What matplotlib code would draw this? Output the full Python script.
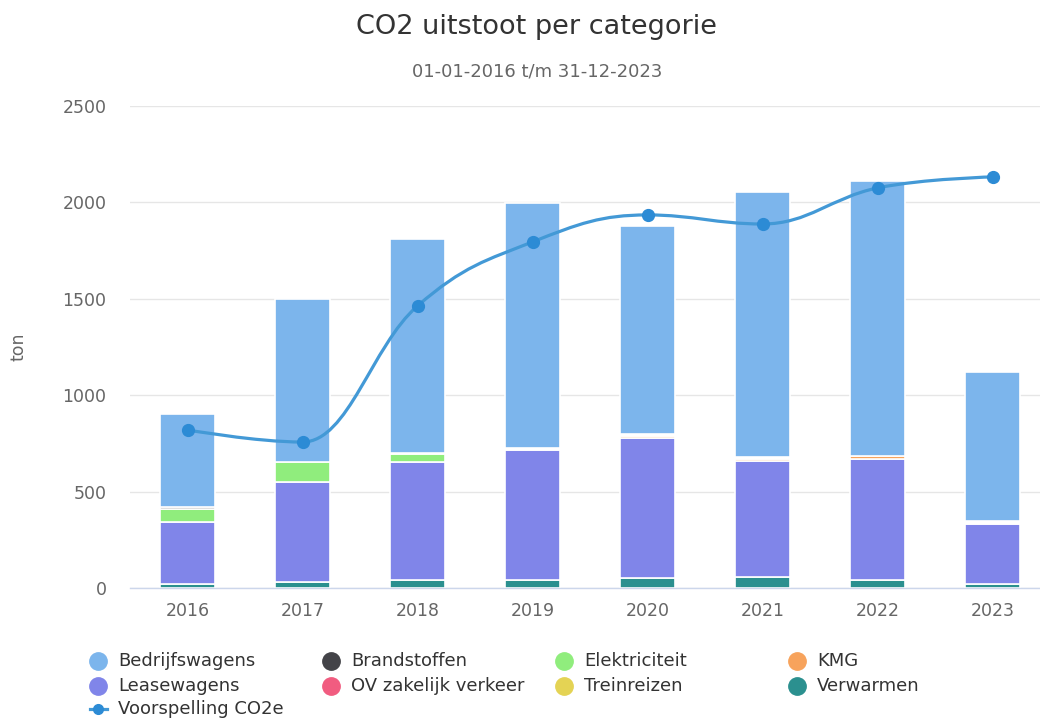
import numpy as np
import matplotlib
matplotlib.use("Agg")
import matplotlib.pyplot as plt
from matplotlib.path import Path
from matplotlib.patches import PathPatch
from matplotlib.lines import Line2D

# ─── Data ─────────────────────────────────────────────────────────────────────
years = ["2016", "2017", "2018", "2019", "2020", "2021", "2022", "2023"]

bedrijfswagens = [482, 845, 1111, 1269, 1080, 1372, 1425, 770]
brandstoffen   = [6, 0, 6, 4, 6, 8, 0, 4]
elektriciteit  = [71, 103, 40, 4, 6, 7, 0, 5]
kmg            = [0, 0, 0, 4, 6, 7, 18, 5]
leasewagens    = [319, 518, 613, 675, 730, 603, 628, 313]
ov_zakelijk    = [0, 0, 0, 0, 0, 0, 0, 0]
treinreizen    = [0, 0, 0, 0, 0, 0, 0, 0]
verwarmen      = [22, 33, 41, 41, 50, 57, 41, 21]

voorspelling   = [820, 757, 1463, 1795, 1935, 1888, 2075, 2132]

# ─── Style ────────────────────────────────────────────────────────────────────
C_BEDR  = "#7cb5ec"
C_BRAND = "#434348"
C_ELEK  = "#90ed7d"
C_KMG   = "#f7a35c"
C_LEASE = "#8085e9"
C_OV    = "#f15c80"
C_TREIN = "#e4d354"
C_VERW  = "#2b908f"
C_LINE  = "#4399d6"
C_DOT   = "#2c8bd5"
TXT     = "#333333"
SUB     = "#666666"

plt.rcParams["font.family"] = ["DejaVu Sans"]


def spline_path(xs, ys):
    """Highcharts-style spline through the points (cubic bezier)."""
    n = len(xs)
    lc = [(xs[i], ys[i]) for i in range(n)]
    rc = [(xs[i], ys[i]) for i in range(n)]
    sm, den = 1.5, 2.5
    for i in range(1, n - 1):
        px, py = xs[i - 1], ys[i - 1]
        nx, ny = xs[i + 1], ys[i + 1]
        x, y = xs[i], ys[i]
        lcx, lcy = (sm * x + px) / den, (sm * y + py) / den
        rcx, rcy = (sm * x + nx) / den, (sm * y + ny) / den
        corr = ((rcy - lcy) * (rcx - x)) / (rcx - lcx) + y - rcy
        lcy += corr
        rcy += corr
        if lcy > py and lcy > y:
            lcy = max(py, y); rcy = 2 * y - lcy
        elif lcy < py and lcy < y:
            lcy = min(py, y); rcy = 2 * y - lcy
        if rcy > ny and rcy > y:
            rcy = max(ny, y); lcy = 2 * y - rcy
        elif rcy < ny and rcy < y:
            rcy = min(ny, y); lcy = 2 * y - rcy
        lc[i] = (lcx, lcy)
        rc[i] = (rcx, rcy)
    verts = [(xs[0], ys[0])]
    codes = [Path.MOVETO]
    for i in range(1, n):
        verts += [rc[i - 1], lc[i], (xs[i], ys[i])]
        codes += [Path.CURVE4] * 3
    return Path(verts, codes)


fig = plt.figure(figsize=(10.4, 7.22), dpi=100, facecolor="white")
ax = fig.add_axes([130 / 1040, 1 - 588 / 722, 920 / 1040, 482 / 722])
ax.set_facecolor("white")

x = np.arange(len(years))
w = 0.478

# stacked bars, bottom -> top (reverse legend order)
stack = [
    (verwarmen, C_VERW),
    (treinreizen, C_TREIN),
    (ov_zakelijk, C_OV),
    (leasewagens, C_LEASE),
    (kmg, C_KMG),
    (elektriciteit, C_ELEK),
    (brandstoffen, C_BRAND),
    (bedrijfswagens, C_BEDR),
]
bottom = np.zeros(len(years))
for vals, col in stack:
    v = np.array(vals, dtype=float)
    mask = v > 0
    ax.bar(x[mask], v[mask], w, bottom=bottom[mask], color=col,
           edgecolor="white", linewidth=1.2, zorder=2)
    bottom += v

# forecast spline
path = spline_path(list(x.astype(float)), voorspelling)
ax.add_patch(PathPatch(path, facecolor="none", edgecolor=C_LINE, lw=2.3,
                       zorder=4, capstyle="round"))
ax.plot(x, voorspelling, "o", color=C_DOT, markersize=8.5, zorder=5)

ax.set_xlim(-0.5, len(years) - 0.5)
ax.set_ylim(0, 2500)
ax.set_yticks([0, 500, 1000, 1500, 2000, 2500])
ax.set_xticks(x)
ax.set_xticklabels(years)
ax.grid(axis="y", color="#e6e6e6", linewidth=1.0, zorder=0)
ax.set_axisbelow(True)
for s in ["top", "right", "left"]:
    ax.spines[s].set_visible(False)
ax.spines["bottom"].set_color("#ccd6eb")
ax.spines["bottom"].set_linewidth(1.0)
ax.tick_params(axis="y", length=0, pad=17, colors=SUB, labelsize=12.5)
ax.tick_params(axis="x", length=0, pad=10, colors=SUB, labelsize=12.5)

fig.text(18 / 1040, 1 - 347 / 722, "ton", rotation=90, ha="center", va="center",
         color=SUB, fontsize=12.5)

fig.text(537 / 1040, 1 - 27 / 722, "CO2 uitstoot per categorie", ha="center",
         va="center", color=TXT, fontsize=19.5)
fig.text(537 / 1040, 1 - 71 / 722, "01-01-2016 t/m 31-12-2023", ha="center",
         va="center", color=SUB, fontsize=13)

# legend (drawn by hand, row-wise like the original)
legend_items = [
    ("Bedrijfswagens", C_BEDR), ("Brandstoffen", C_BRAND),
    ("Elektriciteit", C_ELEK), ("KMG", C_KMG),
    ("Leasewagens", C_LEASE), ("OV zakelijk verkeer", C_OV),
    ("Treinreizen", C_TREIN), ("Verwarmen", C_VERW),
]
col_x = [98, 331, 564, 797]
row_y = [661, 686, 709]
for i, (label, col) in enumerate(legend_items):
    cx = col_x[i % 4]
    cy = row_y[i // 4]
    fig.add_artist(Line2D([cx / 1040], [1 - cy / 722], marker="o",
                          markersize=12.5, color=col, linestyle="none",
                          transform=fig.transFigure))
    fig.text((cx + 20) / 1040, 1 - cy / 722, label, ha="left", va="center",
             color=TXT, fontsize=13)

cy = row_y[2]
fig.add_artist(Line2D([90 / 1040, 107 / 1040], [1 - cy / 722] * 2,
                      color=C_LINE, lw=2.3, transform=fig.transFigure))
fig.add_artist(Line2D([98 / 1040], [1 - cy / 722], marker="o", markersize=7,
                      color=C_DOT, linestyle="none", transform=fig.transFigure))
fig.text(118 / 1040, 1 - cy / 722, "Voorspelling CO2e", ha="left",
         va="center", color=TXT, fontsize=13)

fig.savefig("out.png", dpi=100, facecolor="white")
